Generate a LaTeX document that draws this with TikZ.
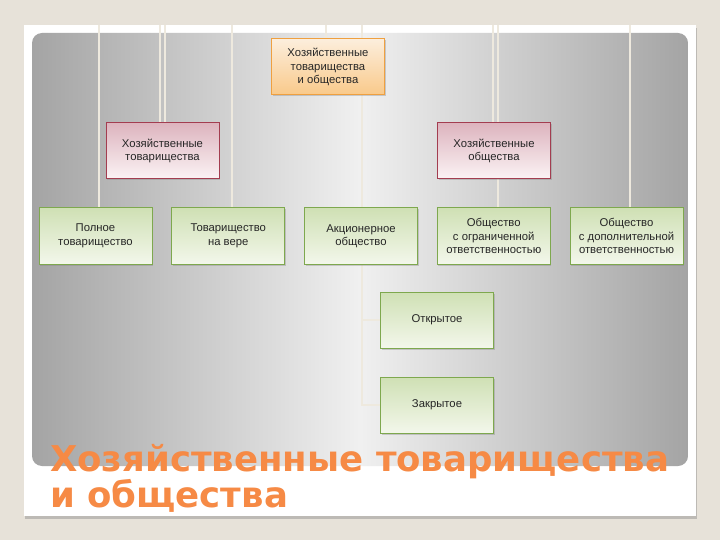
\documentclass[tikz,border=0pt]{standalone}
\usepackage{fontspec}
\setmainfont{Liberation Sans}
\newfontfamily\titlefont{DejaVu Sans}
\usetikzlibrary{positioning,shadows}

\definecolor{slidebg}{HTML}{E7E2D9}
\definecolor{linkcol}{HTML}{EEE9DE}
\definecolor{greenedge}{HTML}{7EA84E}
\definecolor{greentop}{HTML}{CFE0B4}
\definecolor{greenbot}{HTML}{F3F7EB}
\definecolor{rededge}{HTML}{A33D50}
\definecolor{redtop}{HTML}{DDB4BE}
\definecolor{redbot}{HTML}{FBF3F5}
\definecolor{orangeedge}{HTML}{EFA040}
\definecolor{orangetop}{HTML}{FCEEDC}
\definecolor{orangebot}{HTML}{F9C98A}
\definecolor{titlecol}{HTML}{F68A45}
\definecolor{panelside}{HTML}{A4A4A4}
\definecolor{panelmid}{HTML}{F0F0F0}

\pgfdeclarelayer{back}
\pgfdeclarelayer{links}
\pgfsetlayers{back,links,main}

\begin{document}
\begin{tikzpicture}[x=1pt,y=-1pt,node distance=28pt and 18.75pt,
    box/.style={rectangle,draw,line width=1pt,minimum width=113pt,
                minimum height=56pt,align=center,text=black!85,
                font=\fontsize{11.3}{13.5}\selectfont,
                drop shadow={shadow xshift=1pt,shadow yshift=-1.5pt,opacity=.35}},
    topbox/.style={box,draw=orangeedge,top color=orangetop,bottom color=orangebot},
    midbox/.style={box,draw=rededge,top color=redtop,bottom color=redbot},
    leafbox/.style={box,draw=greenedge,top color=greentop,bottom color=greenbot},
    link/.style={draw=linkcol,line width=1.8pt}]
  \useasboundingbox (0,0) rectangle (720,540);

  % slide
  \begin{pgfonlayer}{back}
    \fill[slidebg] (0,0) rectangle (720,540);
    \fill[white,drop shadow={shadow xshift=1pt,shadow yshift=-3pt,opacity=.4}]
      (24,25) rectangle (696,516);
    \shade[rounded corners=10pt,left color=panelside,right color=panelside,
           middle color=panelmid] (32,33) rectangle (688,466);
  \end{pgfonlayer}

  % chart
  \node[topbox] (root) at (328,67) {Хозяйственные\\товарищества\\и общества};
  \node[midbox] (tov)  at (162.5,151) {Хозяйственные\\товарищества};
  \node[midbox] (obsh) at (494,151) {Хозяйственные\\общества};

  \node[leafbox] (poln)  at (95.5,236) {Полное\\товарищество};
  \node[leafbox] (vera)  [right=of poln] {Товарищество\\на вере};
  \node[leafbox] (akc)   [right=of vera] {Акционерное\\общество};
  \node[leafbox] (ooo)   [right=of akc]  {Общество\\с ограниченной\\ответственностью};
  \node[leafbox] (odo)   [right=of ooo]  {Общество\\с дополнительной\\ответственностью};
  \node[leafbox] (otkr)  at (437,320) {Открытое};
  \node[leafbox] (zakr)  [below=of otkr] {Закрытое};

  % connectors
  \coordinate (t1) at (99,25);
  \coordinate (t2) at (160,25);
  \coordinate (t3) at (165,25);
  \coordinate (t4) at (232,25);
  \coordinate (t5) at (326,25);
  \coordinate (t6) at (362,25);
  \coordinate (t7) at (493,25);
  \coordinate (t8) at (498,25);
  \coordinate (t9) at (630,25);
  \coordinate (fork) at (t6 |- zakr.west);

  \begin{pgfonlayer}{links}
    \path[link] (t1) -- (t1 |- poln.north)
                (t2) -- (t2 |- tov.north)
                (t3) -- (t3 |- tov.north)
                (t4) -- (t4 |- vera.north)
                (t5) -- (t5 |- root.north)
                (t6) -- (fork) -- (zakr.west)
                (t6 |- otkr.west) -- (otkr.west)
                (t7) -- (t7 |- obsh.north)
                (t8) -- (t8 |- ooo.north)
                (t9) -- (t9 |- odo.north);
  \end{pgfonlayer}

  % title
  \node[anchor=base west,inner sep=0pt,text=titlecol,
        font=\titlefont\bfseries\fontsize{35.5}{40}\selectfont] (title) at (50,471)
    {Хозяйственные товарищества};
  \node[anchor=base west,inner sep=0pt,text=titlecol,
        font=\titlefont\bfseries\fontsize{35.5}{40}\selectfont] (title2) at (50,507)
    {и общества};
\end{tikzpicture}
\end{document}
